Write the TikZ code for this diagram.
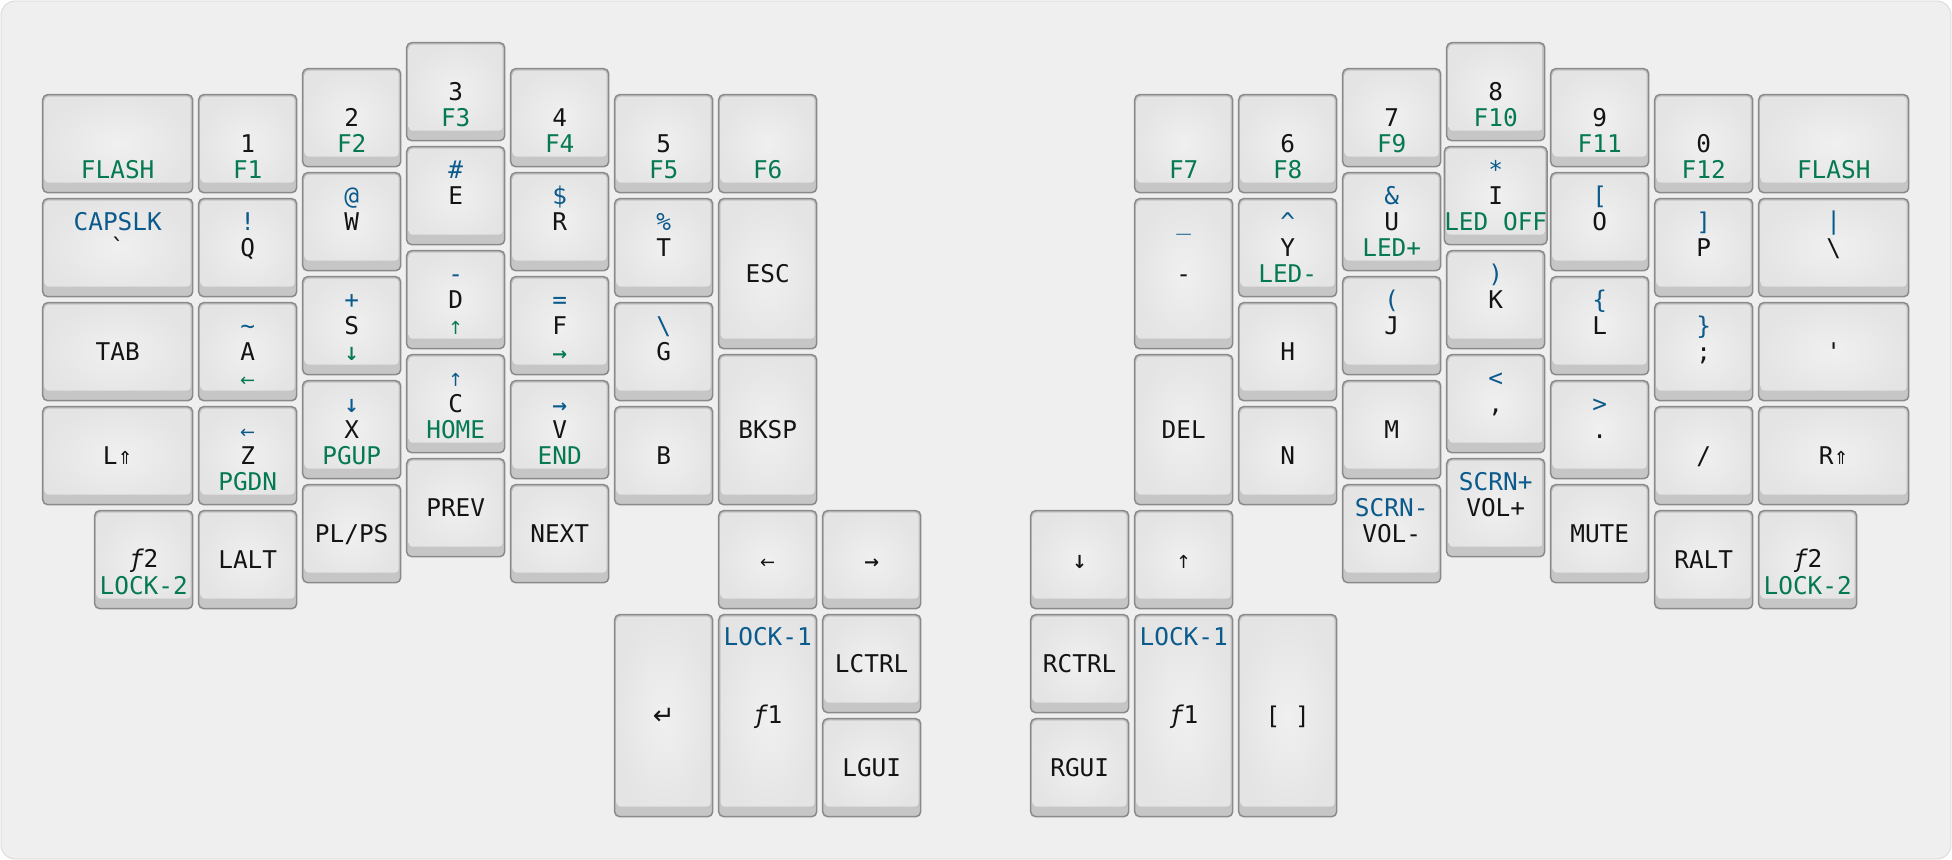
\documentclass[tikz,border=0pt]{standalone}
\usepackage{fontspec}
\setmonofont{DejaVu Sans Mono}
\newfontfamily\setas{DejaVu Sans}
\usepackage{tikz}
\usetikzlibrary{positioning}
\usepackage{xcolor}
\definecolor{azul}{RGB}{10, 90, 140}
\definecolor{verde}{RGB}{5, 122, 80}
\definecolor{preto}{RGB}{20, 20, 20}
\definecolor{borda}{RGB}{138, 138, 138}
\definecolor{faixa}{RGB}{198, 198, 198}
\definecolor{face}{RGB}{228, 228, 228}
\definecolor{brilho}{RGB}{240, 240, 240}
\definecolor{fundo}{RGB}{239, 239, 239}
\definecolor{moldura}{RGB}{216, 216, 216}
\newcommand{\az}[1]{\textcolor{azul}{#1}}
\newcommand{\vd}[1]{\textcolor{verde}{#1}}
\newcommand{\linha}{\rule[-2.2pt]{0pt}{13pt}}
\newcommand{\rotulos}[3]{{\renewcommand{\arraystretch}{0}%
  \begin{tabular}{@{}c@{}}\linha#1\\\linha#2\\\linha#3\end{tabular}}}
\newcommand{\setaesq}{{\setas\fontsize{9}{9}\selectfont ←}}
\newcommand{\setacima}{{\setas\fontsize{9}{9}\selectfont ↑}}
\newcommand{\setadir}{{\setas\bfseries\fontsize{9}{9}\selectfont →}}
\newcommand{\setabaixo}{{\setas\bfseries\fontsize{9}{9}\selectfont ↓}}
\newcommand{\shiftseta}{{\setas\fontsize{9}{9}\selectfont ⇑}}
\newcommand{\entra}{{\setas\fontsize{13}{13}\selectfont ↵}}
\newcommand{\fn}{{\itshape ƒ}}

\begin{document}
\begin{tikzpicture}[
    x=0.5pt, y=-0.5pt,
    tecla/.style={
        draw=borda,
        line width=0.75pt,
        fill=faixa,
        rounded corners=2.5pt,
        inner sep=0pt,
        minimum width=49pt,
        minimum height=49pt,
        text=preto,
        font=\ttfamily\fontsize{12.2}{13}\selectfont,
        path picture={\shade[inner color=brilho, outer color=face, rounded corners=2pt]
            ([shift={(1pt,-1pt)}]path picture bounding box.north west) rectangle
            ([shift={(-1pt,5pt)}]path picture bounding box.south east);}
    },
    larga/.style={tecla, minimum width=75pt},
    alta/.style={tecla, minimum height=75pt},
    dupla/.style={tecla, minimum height=101pt},
    topo/.style={
        inner sep=0pt,
        text=azul,
        font=\ttfamily\fontsize{12.2}{13}\selectfont
    }
]

\useasboundingbox (0,0) rectangle (1952,860);
\draw[fill=fundo, draw=moldura, rounded corners=7pt] (1,1) rectangle (1951,859);

\node[larga] (flashE) at (117.7,143.7) {\rotulos{}{}{\vd{FLASH}}};
\node[tecla] (k1) at (247.7,143.7) {\rotulos{}{1}{\vd{F1}}};
\node[tecla] (k2) at (351.7,117.7) {\rotulos{}{2}{\vd{F2}}};
\node[tecla] (k3) at (455.7,91.7) {\rotulos{}{3}{\vd{F3}}};
\node[tecla] (k4) at (559.7,117.7) {\rotulos{}{4}{\vd{F4}}};
\node[tecla] (k5) at (663.7,143.7) {\rotulos{}{5}{\vd{F5}}};
\node[tecla] (f6) at (767.7,143.7) {\rotulos{}{}{\vd{F6}}};

\node[larga] (caps) at (117.7,247.7) {\rotulos{\az{CAPSLK}}{`}{}};
\node[tecla] (q) at (247.7,247.7) {\rotulos{\az{!}}{Q}{}};
\node[tecla] (w) at (351.7,221.7) {\rotulos{\az{@}}{W}{}};
\node[tecla] (e) at (455.7,195.7) {\rotulos{\az{\#}}{E}{}};
\node[tecla] (r) at (559.7,221.7) {\rotulos{\az{\$}}{R}{}};
\node[tecla] (t) at (663.7,247.7) {\rotulos{\az{\%}}{T}{}};
\node[alta] (esc) at (767.7,273.7) {\rotulos{}{ESC}{}};

\node[larga] (tab) at (117.7,351.7) {\rotulos{}{TAB}{}};
\node[tecla] (a) at (247.7,351.7) {\rotulos{\az{\textasciitilde}}{A}{\vd{\setaesq}}};
\node[tecla] (s) at (351.7,325.7) {\rotulos{\az{+}}{S}{\vd{\setabaixo}}};
\node[tecla] (d) at (455.7,299.7) {\rotulos{\az{-}}{D}{\vd{\setacima}}};
\node[tecla] (f) at (559.7,325.7) {\rotulos{\az{=}}{F}{\vd{\setadir}}};
\node[tecla] (g) at (663.7,351.7) {\rotulos{\az{\textbackslash}}{G}{}};

\node[larga] (shiftE) at (117.7,455.7) {\rotulos{}{L\shiftseta}{}};
\node[tecla] (z) at (247.7,455.7) {\rotulos{\az{\setaesq}}{Z}{\vd{PGDN}}};
\node[tecla] (x) at (351.7,429.7) {\rotulos{\az{\setabaixo}}{X}{\vd{PGUP}}};
\node[tecla] (c) at (455.7,403.7) {\rotulos{\az{\setacima}}{C}{\vd{HOME}}};
\node[tecla] (v) at (559.7,429.7) {\rotulos{\az{\setadir}}{V}{\vd{END}}};
\node[tecla] (b) at (663.7,455.7) {\rotulos{}{B}{}};
\node[alta] (bksp) at (767.7,429.7) {\rotulos{}{BKSP}{}};

\node[tecla] (f2E) at (143.7,559.7) {\rotulos{}{\fn2}{\vd{LOCK-2}}};
\node[tecla] (lalt) at (247.7,559.7) {\rotulos{}{LALT}{}};
\node[tecla] (plps) at (351.7,533.7) {\rotulos{}{PL/PS}{}};
\node[tecla] (prev) at (455.7,507.7) {\rotulos{}{PREV}{}};
\node[tecla] (next) at (559.7,533.7) {\rotulos{}{NEXT}{}};

\node[tecla] (esquerda) at (767.7,559.7) {\rotulos{}{\setaesq}{}};
\node[tecla] (direita) at (871.7,559.7) {\rotulos{}{\setadir}{}};
\node[dupla] (enter) at (663.7,715.7) {\rotulos{}{\entra}{}};
\node[dupla] (f1E) at (767.7,715.7) {\rotulos{}{\fn1}{}};
\node[topo, below=5pt of f1E.north] (lock1E) {\linha LOCK-1};
\node[tecla] (lctrl) at (871.7,663.7) {\rotulos{}{LCTRL}{}};
\node[tecla] (lgui) at (871.7,767.7) {\rotulos{}{LGUI}{}};

\node[tecla] (f7) at (1183.7,143.7) {\rotulos{}{}{\vd{F7}}};
\node[tecla] (k6) at (1287.7,143.7) {\rotulos{}{6}{\vd{F8}}};
\node[tecla] (k7) at (1391.7,117.7) {\rotulos{}{7}{\vd{F9}}};
\node[tecla] (k8) at (1495.7,91.7) {\rotulos{}{8}{\vd{F10}}};
\node[tecla] (k9) at (1599.7,117.7) {\rotulos{}{9}{\vd{F11}}};
\node[tecla] (k0) at (1703.7,143.7) {\rotulos{}{0}{\vd{F12}}};
\node[larga] (flashD) at (1833.7,143.7) {\rotulos{}{}{\vd{FLASH}}};

\node[alta] (menos) at (1183.7,273.7) {\rotulos{}{-}{}};
\node[topo, below=5pt of menos.north] (sublinhado) {\linha\_};
\node[tecla] (y) at (1287.7,247.7) {\rotulos{\az{\textasciicircum}}{Y}{\vd{LED-}}};
\node[tecla] (u) at (1391.7,221.7) {\rotulos{\az{\&}}{U}{\vd{LED+}}};
\node[tecla] (i) at (1495.7,195.7) {\rotulos{\az{*}}{I}{\vd{LED OFF}}};
\node[tecla] (o) at (1599.7,221.7) {\rotulos{\az{[}}{O}{}};
\node[tecla] (p) at (1703.7,247.7) {\rotulos{\az{]}}{P}{}};
\node[larga] (contra) at (1833.7,247.7) {\rotulos{\az{|}}{\textbackslash}{}};

\node[tecla] (h) at (1287.7,351.7) {\rotulos{}{H}{}};
\node[tecla] (j) at (1391.7,325.7) {\rotulos{\az{(}}{J}{}};
\node[tecla] (k) at (1495.7,299.7) {\rotulos{\az{)}}{K}{}};
\node[tecla] (l) at (1599.7,325.7) {\rotulos{\az{\{}}{L}{}};
\node[tecla] (pv) at (1703.7,351.7) {\rotulos{\az{\}}}{;}{}};
\node[larga] (aspas) at (1833.7,351.7) {\rotulos{}{'}{}};

\node[alta] (del) at (1183.7,429.7) {\rotulos{}{DEL}{}};
\node[tecla] (n) at (1287.7,455.7) {\rotulos{}{N}{}};
\node[tecla] (m) at (1391.7,429.7) {\rotulos{}{M}{}};
\node[tecla] (virgula) at (1495.7,403.7) {\rotulos{\az{<}}{,}{}};
\node[tecla] (ponto) at (1599.7,429.7) {\rotulos{\az{>}}{.}{}};
\node[tecla] (barra) at (1703.7,455.7) {\rotulos{}{/}{}};
\node[larga] (shiftD) at (1833.7,455.7) {\rotulos{}{R\shiftseta}{}};

\node[tecla] (scrnmenos) at (1391.7,533.7) {\rotulos{\az{SCRN-}}{VOL-}{}};
\node[tecla] (scrnmais) at (1495.7,507.7) {\rotulos{\az{SCRN+}}{VOL+}{}};
\node[tecla] (mute) at (1599.7,533.7) {\rotulos{}{MUTE}{}};
\node[tecla] (ralt) at (1703.7,559.7) {\rotulos{}{RALT}{}};
\node[tecla] (f2D) at (1807.7,559.7) {\rotulos{}{\fn2}{\vd{LOCK-2}}};

\node[tecla] (baixo) at (1079.7,559.7) {\rotulos{}{\setabaixo}{}};
\node[tecla] (cima) at (1183.7,559.7) {\rotulos{}{\setacima}{}};
\node[tecla] (rctrl) at (1079.7,663.7) {\rotulos{}{RCTRL}{}};
\node[tecla] (rgui) at (1079.7,767.7) {\rotulos{}{RGUI}{}};
\node[dupla] (f1D) at (1183.7,715.7) {\rotulos{}{\fn1}{}};
\node[topo, below=5pt of f1D.north] (lock1D) {\linha LOCK-1};
\node[dupla] (espaco) at (1287.7,715.7) {\rotulos{}{[ ]}{}};

\end{tikzpicture}
\end{document}
